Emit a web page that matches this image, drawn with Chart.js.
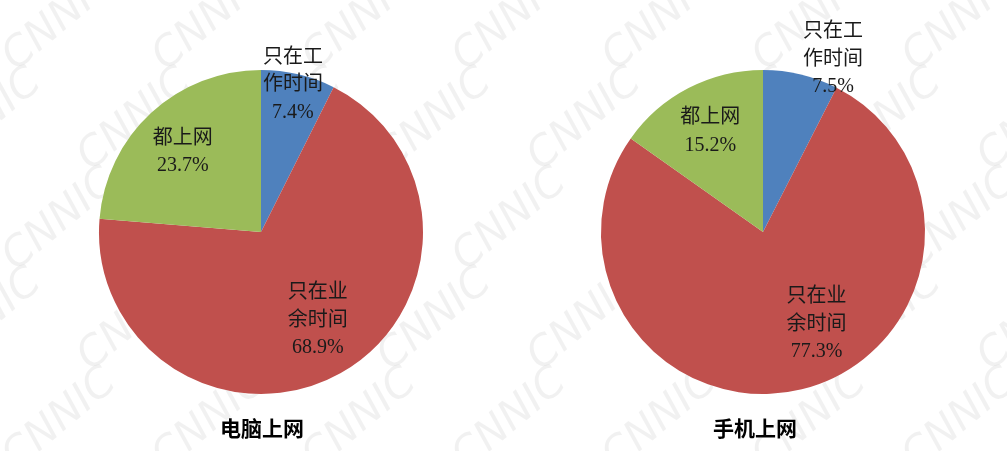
<!DOCTYPE html>
<html>
<head>
<meta charset="utf-8">
<script src="https://cdn.jsdelivr.net/npm/chart.js@4"></script>
<style>
  html, body { margin: 0; padding: 0; background: #fff; }
  .wrap { display: flex; width: 1007px; height: 451px; overflow: hidden; }
  .wrap canvas { display: block; }
</style>
</head>
<body>
<div class="wrap">
  <canvas id="pcChart" width="504" height="451"></canvas>
  <canvas id="mobileChart" width="503" height="451"></canvas>
</div>
<script>
// categories (line-broken as on the chart)
const categories = ['只在工作时间', '只在业余时间', '都上网'];
const categoryLines = [['只在工', '作时间'], ['只在业', '余时间'], ['都上网']];
const colors = ['#4F81BD', '#C0504D', '#9BBB59'];

// percentages
const pcValues = [7.4, 68.9, 23.7];
const mobileValues = [7.5, 77.3, 15.2];

const pcTitle = '电脑上网';
const mobileTitle = '手机上网';

// where each label sits: [radius factor, angle shift in degrees from slice middle]
const pcLabelPos = [[0.93, -1.1], [0.65, -3.3], [0.69, -1.7]];
const mobileLabelPos = [[1.15, 8.6], [0.66, -16.2], [0.70, -0.3]];

const textFont = '20px "Liberation Serif", "Noto Sans CJK SC"';
const lineH = 27.5;

const watermark = {
  id: 'watermark',
  beforeDraw(chart) {
    const ctx = chart.ctx;
    const offX = chart.canvas.offsetLeft;
    ctx.save();
    ctx.fillStyle = 'rgba(0,0,0,0.055)';
    ctx.font = 'italic 42px "DejaVu Sans"';
    ctx.textAlign = 'center';
    ctx.textBaseline = 'middle';
    for (let row = -2; row < 8; row++) {
      for (let col = -2; col < 10; col++) {
        const gx = col * 150 + (row % 2) * 75 + 60 - offX;
        const gy = row * 100 + 20;
        if (gx < -150 || gx > chart.width + 150) continue;
        ctx.save();
        ctx.translate(gx, gy);
        ctx.rotate(-40 * Math.PI / 180);
        ctx.fillText('CNNIC', 0, 0);
        ctx.restore();
      }
    }
    ctx.restore();
  }
};

const pieLabels = {
  id: 'pieLabels',
  afterDraw(chart, args, opts) {
    const ctx = chart.ctx;
    const meta = chart.getDatasetMeta(0);
    const values = chart.data.datasets[0].data;
    ctx.save();
    ctx.fillStyle = '#1a1a1a';
    ctx.textAlign = 'center';
    ctx.textBaseline = 'middle';
    ctx.font = textFont;
    meta.data.forEach((arc, i) => {
      const mid = (arc.startAngle + arc.endAngle) / 2 + opts.pos[i][1] * Math.PI / 180;
      const r = arc.outerRadius * opts.pos[i][0];
      const cx = arc.x + Math.cos(mid) * r;
      const cy = arc.y + Math.sin(mid) * r;
      const lines = categoryLines[i].concat([values[i].toFixed(1) + '%']);
      const top = cy - (lines.length - 1) * lineH / 2;
      lines.forEach((t, k) => ctx.fillText(t, cx, top + k * lineH));
    });
    ctx.font = 'bold 21px "Noto Sans CJK SC"';
    ctx.fillStyle = '#000';
    ctx.fillText(opts.title, meta.data[0].x + opts.titleShift, 428);
    ctx.restore();
  }
};

function makePie(id, values, labelPos, title, padLeft, padRight, titleShift) {
  return new Chart(document.getElementById(id), {
    type: 'pie',
    data: {
      labels: categories,
      datasets: [{
        data: values,
        backgroundColor: colors,
        borderWidth: 0
      }]
    },
    options: {
      responsive: false,
      animation: false,
      layout: { padding: { left: padLeft, right: padRight, top: 70, bottom: 57 } },
      plugins: {
        legend: { display: false },
        tooltip: { enabled: false },
        pieLabels: { pos: labelPos, title: title, titleShift: titleShift }
      }
    },
    plugins: [watermark, pieLabels]
  });
}

makePie('pcChart', pcValues, pcLabelPos, pcTitle, 99, 81, 1);
makePie('mobileChart', mobileValues, mobileLabelPos, mobileTitle, 97, 82, -8);
</script>
</body>
</html>
